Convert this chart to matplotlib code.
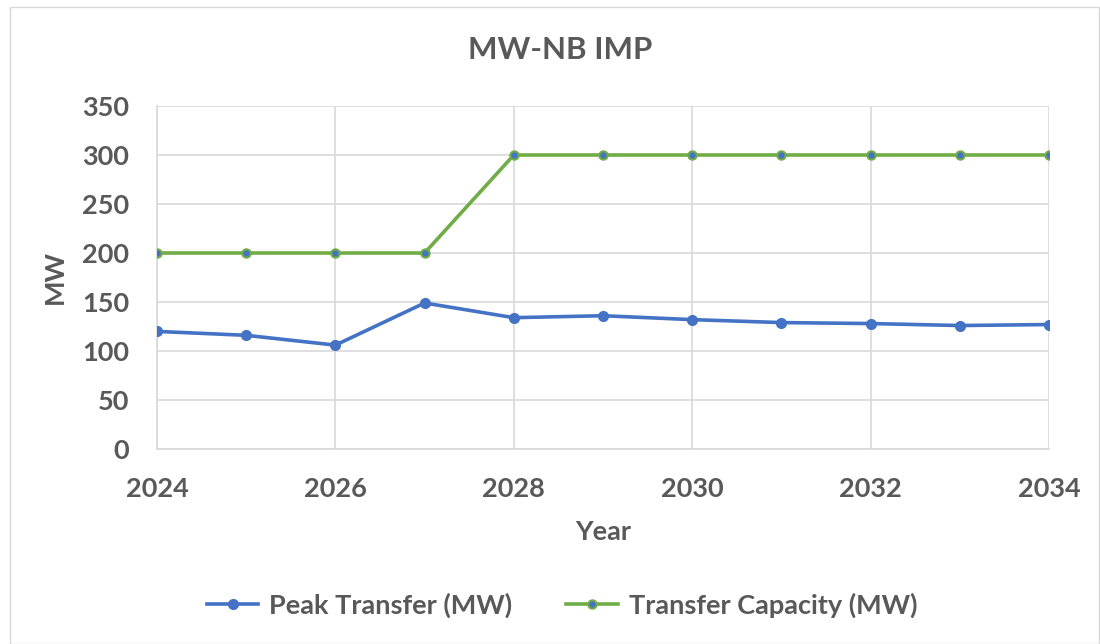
import matplotlib
matplotlib.use("Agg")
import matplotlib.pyplot as plt
from matplotlib.patches import Rectangle

years = [2024, 2025, 2026, 2027, 2028, 2029, 2030, 2031, 2032, 2033, 2034]
peak_transfer = [120, 116, 106, 149, 134, 136, 132, 129, 128, 126, 127]
transfer_capacity = [200, 200, 200, 200, 300, 300, 300, 300, 300, 300, 300]
x_ticks = [2024, 2026, 2028, 2030, 2032, 2034]
y_ticks = [0, 50, 100, 150, 200, 250, 300, 350]

plt.rcParams['font.family'] = ['Lato', 'DejaVu Sans']
txt = '#595959'
fs = 19.5

fig = plt.figure(figsize=(11, 6.44), dpi=100)
fig.patches.append(Rectangle((10/1100, 0), 1 - 11/1100, 1 - 7/644, transform=fig.transFigure,
                             fill=False, edgecolor='#d9d9d9', linewidth=1))
ax = fig.add_axes([157/1100, (644-449)/644, 892/1100, 343/644])

ax.plot(years, peak_transfer, color='#4472C4', lw=2.6, marker='o', ms=7,
        markerfacecolor='#4472C4', markeredgecolor='#4472C4', label='Peak Transfer (MW)', zorder=3)
ax.plot(years, transfer_capacity, color='#70AD47', lw=2.6, marker='o', ms=6,
        markerfacecolor='#4472C4', markeredgecolor='#70AD47', markeredgewidth=1.5,
        label='Transfer Capacity (MW)', zorder=3)

ax.set_xlim(2024, 2034)
ax.set_ylim(0, 350)
ax.set_xticks(x_ticks)
ax.set_yticks(y_ticks)
ax.grid(True, color='#d9d9d9', lw=1.2)
ax.set_axisbelow(True)
for s in ['top', 'right']:
    ax.spines[s].set_visible(False)
ax.spines['left'].set_color('#d9d9d9')
ax.spines['bottom'].set_color('#d9d9d9')
ax.spines['left'].set_linewidth(1.2)
ax.spines['bottom'].set_linewidth(1.2)
ax.tick_params(length=0, labelsize=fs, labelcolor=txt)
ax.tick_params(axis='y', pad=20)
ax.tick_params(axis='x', pad=20)
for lab in ax.get_xticklabels() + ax.get_yticklabels():
    lab.set_fontweight('bold')

ax.set_xlabel('Year', fontsize=fs, fontweight='bold', color=txt, labelpad=14)
ax.set_ylabel('MW', fontsize=fs, fontweight='bold', color=txt, labelpad=11)
fig.text(560/1100, 1 - 50/644, 'MW-NB IMP', ha='center', va='center', fontsize=22.5,
         fontweight='bold', color=txt)

fig.legend(loc='center', bbox_to_anchor=(562/1100, 1 - 605/644), ncol=2, frameon=False,
           labelcolor=txt, prop={'weight': 'bold', 'size': fs},
           handlelength=1.9, handletextpad=0.4, columnspacing=2.0)

fig.savefig('out.png', dpi=100)
